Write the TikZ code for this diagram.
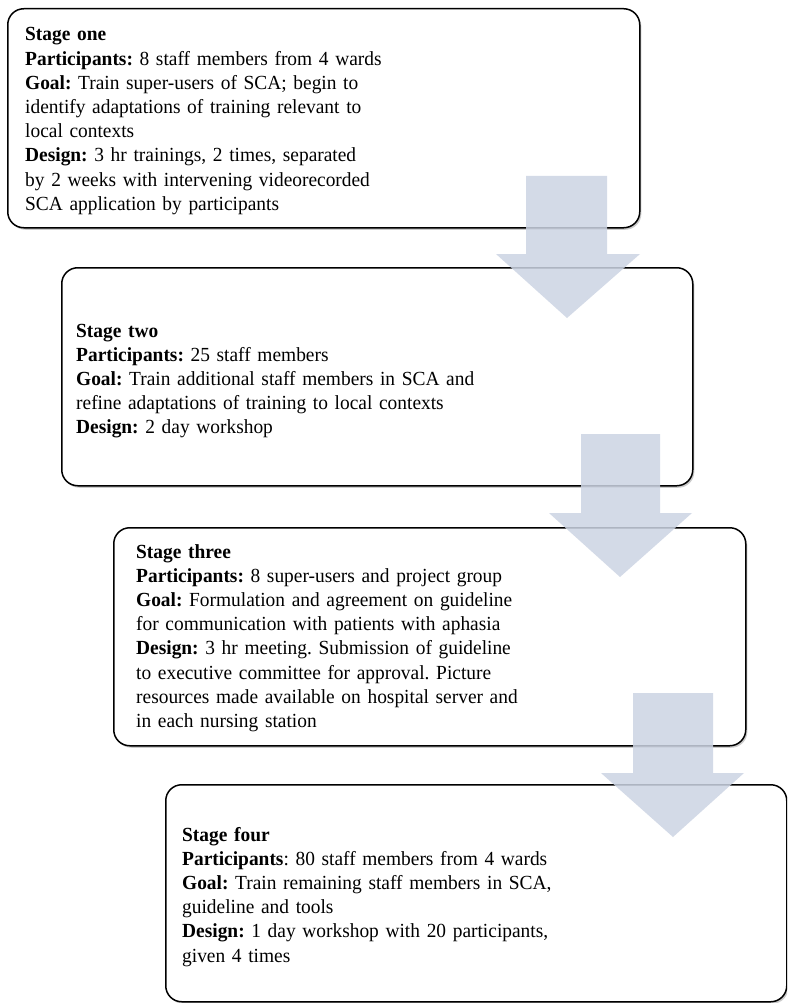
\documentclass[tikz,border=0pt]{standalone}
\usepackage{fontspec}
\setmainfont{Liberation Serif}[FakeStretch=0.97]
\usetikzlibrary{shadows}
\definecolor{arrowblue}{RGB}{204,212,227}
\tikzset{
  stagebox/.style={draw=black, line width=1.5pt, rounded corners=16pt, fill=white,
    rectangle, anchor=north west, inner sep=0pt,
    drop shadow={shadow xshift=1.6pt, shadow yshift=-2pt, fill=black!40}},
  stagetext/.style={anchor=base west, inner sep=0pt, align=left, text width=560pt,
    font=\fontsize{20pt}{24.2pt}\selectfont\frenchspacing},
  blockarrow/.style={fill=arrowblue, fill opacity=0.85, draw=none}
}
\begin{document}
\begin{tikzpicture}[x=1pt,y=-1pt]
\useasboundingbox (0,0) rectangle (787,1003);
\clip (0,0) rectangle (787,1003);
\fill[white] (0,0) rectangle (787,1003);

% boxes
\node[stagebox, minimum width=632pt, minimum height=219pt] (s1) at (7,8) {};
\node[stagebox, minimum width=631pt, minimum height=218pt] (s2) at (61,267) {};
\node[stagebox, minimum width=632pt, minimum height=218pt] (s3) at (113,527) {};
\node[stagebox, minimum width=621pt, minimum height=217pt] (s4) at (165,784) {};

% texts
\node[stagetext] (t1) at (25,41) {\textbf{Stage one}\\
\textbf{Participants:} 8 staff members from 4 wards\\
\textbf{Goal:} Train super-users of SCA; begin to\\
identify adaptations of training relevant to\\
local contexts\\
\textbf{Design:} 3 hr trainings, 2 times, separated\\
by 2 weeks with intervening videorecorded\\
SCA application by participants};

\node[stagetext] (t2) at (76,337) {\textbf{Stage two}\\
\textbf{Participants:} 25 staff members\\
\textbf{Goal:} Train additional staff members in SCA and\\
refine adaptations of training to local contexts\\
\textbf{Design:} 2 day workshop};

\node[stagetext] (t3) at (136,558) {\textbf{Stage three}\\
\textbf{Participants:} 8 super-users and project group\\
\textbf{Goal:} Formulation and agreement on guideline\\
for communication with patients with aphasia\\
\textbf{Design:} 3 hr meeting. Submission of guideline\\
to executive committee for approval. Picture\\
resources made available on hospital server and\\
in each nursing station};

\node[stagetext] (t4) at (182,841) {\textbf{Stage four}\\
\textbf{Participants}: 80 staff members from 4 wards\\
\textbf{Goal:} Train remaining staff members in SCA,\\
guideline and tools\\
\textbf{Design:} 1 day workshop with 20 participants,\\
given 4 times};

% block arrows
\fill[blockarrow] (526,176) -- (607,176) -- (607,254) -- (640,254) -- (567,318) -- (496,254) -- (526,254) -- cycle;
\fill[blockarrow] (581,434) -- (660,434) -- (660,513) -- (692,513) -- (620,577) -- (549,513) -- (581,513) -- cycle;
\fill[blockarrow] (633,693) -- (713,693) -- (713,773) -- (744,773) -- (673,837) -- (601,773) -- (633,773) -- cycle;
\end{tikzpicture}
\end{document}
